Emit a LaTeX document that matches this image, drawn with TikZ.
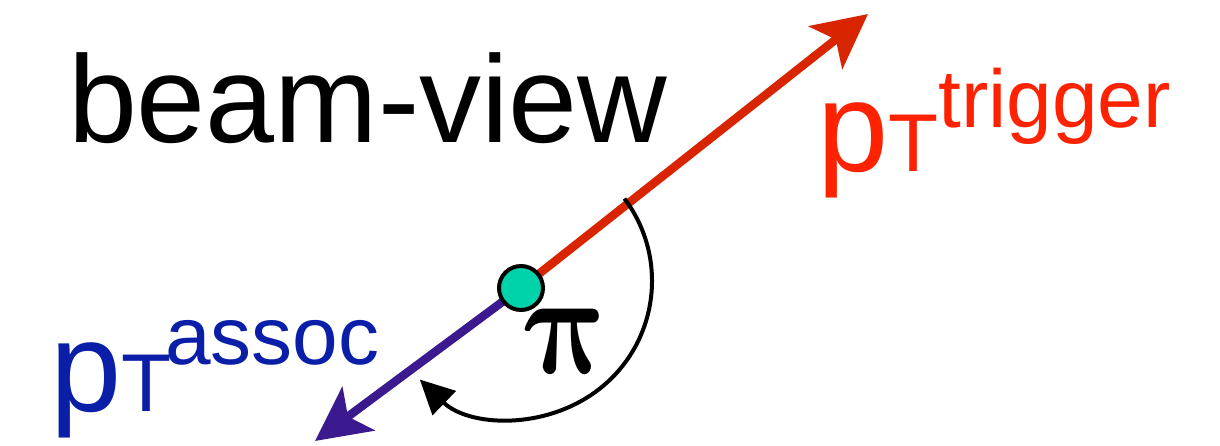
\documentclass[tikz,border=0pt]{standalone}
\usepackage{fontspec}
\setmainfont{Liberation Sans}
\usetikzlibrary{arrows.meta,calc}
\definecolor{arrred}{HTML}{D92400}
\definecolor{txtred}{HTML}{FF2200}
\definecolor{arrblue}{HTML}{3B1A90}
\definecolor{txtblue}{HTML}{0A1EA8}
\definecolor{tealdot}{HTML}{00D2AA}
\newcommand{\boldpisym}{{\mathversion{bold}$\pi$}}
\tikzset{
  label text/.style={anchor=base west, inner sep=0pt, outer sep=0pt},
  momentum/.style={line width=8.5pt, -{Stealth[length=54pt,width=54pt,inset=13pt]}},
  angle arc/.style={line width=4pt, -{Triangle[length=34pt,width=33pt]}},
  vertex/.style={circle, draw=black, line width=4pt, fill=tealdot, minimum size=44pt, inner sep=0pt}
}
\begin{document}
\begin{tikzpicture}[x=1pt,y=1pt]
\useasboundingbox (0,0) rectangle (1220,-446);
% coordinates
\coordinate (vc) at (521,-288);
\coordinate (tipR) at (868,-14);
\coordinate (tipB) at (315,-441);
\coordinate (arcC) at (515,-281);
% arrows
\draw[momentum, arrred] (vc) -- (tipR);
\draw[momentum, arrblue] (vc) -- (tipB);
\node[vertex] (v) at (vc) {};
% angle arc
\draw[angle arc] ($(arcC)+(37:137)$) arc[start angle=37, end angle=-134, radius=137];
% labels
\node[label text] (title) at (68,-143) {\fontsize{124}{124}\selectfont beam-view};
\node[label text, text=txtred] (ptrig) at (817,-172) {\fontsize{128}{128}\selectfont p\fontsize{82}{82}\selectfont T\raisebox{44pt}{trigger}};
\node[label text, text=txtblue] (passoc) at (50,-411) {\fontsize{128}{128}\selectfont p\fontsize{82}{82}\selectfont T\kern-6pt\raisebox{47pt}{assoc}};
\node[scale=14.5, xscale=0.83, xslant=-0.22, inner sep=0pt] (piSym) at (567,-341) {\boldpisym};
\end{tikzpicture}
\end{document}
